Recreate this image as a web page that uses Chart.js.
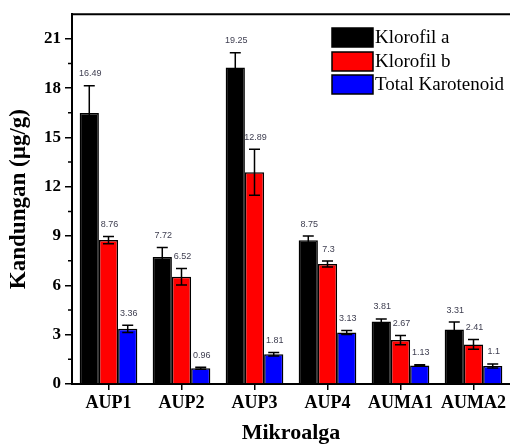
<!DOCTYPE html>
<html>
<head>
<meta charset="utf-8">
<script src="https://cdn.jsdelivr.net/npm/chart.js@4.4.0/dist/chart.umd.min.js"></script>
<style>
  html, body { margin: 0; padding: 0; background: #fff; }
  #wrap { width: 510px; height: 445px; position: relative; }
</style>
</head>
<body>
<div id="wrap"><canvas id="chart"></canvas></div>
<script>
const categories = ["AUP1", "AUP2", "AUP3", "AUP4", "AUMA1", "AUMA2"];
const klorofilA = [16.49, 7.72, 19.25, 8.75, 3.81, 3.31];
const klorofilB = [8.76, 6.52, 12.89, 7.3, 2.67, 2.41];
const karotenoid = [3.36, 0.96, 1.81, 3.13, 1.13, 1.1];
const errA = [1.65, 0.58, 0.9, 0.25, 0.15, 0.46];
const errB = [0.22, 0.5, 1.4, 0.18, 0.28, 0.3];
const errK = [0.22, 0.06, 0.1, 0.12, 0.04, 0.12];
const yMax = 22.5;
const yStep = 3;

const serif = "'Liberation Serif', 'Times New Roman', serif";

// error bars + value labels
const errorBarPlugin = {
    id: "errorBars",
    afterDatasetsDraw(chart) {
        const ctx = chart.ctx;
        const y = chart.scales.y;
        ctx.save();
        chart.data.datasets.forEach((ds, i) => {
            const meta = chart.getDatasetMeta(i);
            meta.data.forEach((bar, j) => {
                const v = ds.data[j];
                const e = ds.errors[j];
                const top = y.getPixelForValue(v + e);
                const bot = y.getPixelForValue(v - e);
                ctx.strokeStyle = "#000";
                ctx.lineWidth = 1.5;
                ctx.beginPath();
                ctx.moveTo(bar.x, top);
                ctx.lineTo(bar.x, bot);
                ctx.moveTo(bar.x - 5.5, top);
                ctx.lineTo(bar.x + 5.5, top);
                ctx.moveTo(bar.x - 5.5, bot);
                ctx.lineTo(bar.x + 5.5, bot);
                ctx.stroke();

                ctx.fillStyle = "#404052";
                ctx.font = "9px 'Liberation Sans', Arial, sans-serif";
                ctx.textAlign = "center";
                ctx.textBaseline = "middle";
                ctx.fillText(String(v), bar.x + 1, Math.min(top, y.getPixelForValue(v)) - 12);
            });
        });
        ctx.restore();
    },
};

// top frame, minor ticks and legend
const framePlugin = {
    id: "frame",
    afterDraw(chart) {
        const ctx = chart.ctx;
        const area = chart.chartArea;
        const y = chart.scales.y;
        ctx.save();
        ctx.strokeStyle = "#000";
        ctx.lineWidth = 2;
        ctx.beginPath();
        ctx.moveTo(area.left, area.top);
        ctx.lineTo(area.right, area.top);
        ctx.stroke();

        ctx.lineWidth = 1.5;
        ctx.beginPath();
        for (let v = yStep / 2; v < yMax; v += yStep) {
            const py = y.getPixelForValue(v);
            ctx.moveTo(area.left, py);
            ctx.lineTo(area.left - 4, py);
        }
        ctx.stroke();

        const lx = 332, ly = [28, 52, 75];
        chart.data.datasets.forEach((ds, i) => {
            ctx.fillStyle = ds.backgroundColor;
            ctx.fillRect(lx, ly[i], 41, 19);
            ctx.lineWidth = 1.5;
            ctx.strokeRect(lx, ly[i], 41, 19);
            ctx.fillStyle = "#000";
            ctx.font = "19px " + serif;
            ctx.textAlign = "left";
            ctx.textBaseline = "middle";
            ctx.fillText(ds.label, lx + 43, ly[i] + 10);
        });
        ctx.restore();
    },
};

const ctx = document.getElementById("chart").getContext("2d");
new Chart(ctx, {
    type: "bar",
    data: {
        labels: categories,
        datasets: [
            { label: "Klorofil a", data: klorofilA, errors: errA, backgroundColor: "#000000" },
            { label: "Klorofil b", data: klorofilB, errors: errB, backgroundColor: "#ff0000" },
            { label: "Total Karotenoid", data: karotenoid, errors: errK, backgroundColor: "#0000ff" },
        ].map((d) => ({ ...d, borderColor: "#000", borderWidth: 1.5, categoryPercentage: 0.79, barPercentage: 1.0 })),
    },
    options: {
        responsive: true,
        maintainAspectRatio: false,
        animation: false,
        devicePixelRatio: 1,
        layout: { padding: { top: 14, right: 0, left: 0, bottom: 0 } },
        plugins: {
            legend: { display: false },
            tooltip: { enabled: false },
        },
        scales: {
            x: {
                afterFit: (s) => { s.height = 61; },
                grid: { display: true, drawOnChartArea: false, offset: false, tickLength: 6, color: "#000", lineWidth: 1.5 },
                border: { display: true, color: "#000", width: 2 },
                ticks: { color: "#000", font: { family: serif, size: 18, weight: "bold" }, padding: 3, maxRotation: 0 },
                title: {
                    display: true,
                    text: "Mikroalga",
                    color: "#000",
                    font: { family: serif, size: 22, weight: "bold", lineHeight: 1 },
                    padding: { top: 0, bottom: 1 },
                },
            },
            y: {
                min: 0,
                max: yMax,
                afterFit: (s) => { s.width = 72; },
                grid: { display: true, drawOnChartArea: false, tickLength: 7, color: "#000", lineWidth: 1.5 },
                border: { display: true, color: "#000", width: 2 },
                ticks: { stepSize: yStep, includeBounds: false, color: "#000", font: { family: serif, size: 17, weight: "bold" }, padding: 4 },
                title: {
                    display: true,
                    text: "Kandungan (µg/g)",
                    color: "#000",
                    font: { family: serif, size: 23, weight: "bold", lineHeight: 1 },
                    padding: { top: 8, bottom: 0 },
                },
            },
        },
    },
    plugins: [errorBarPlugin, framePlugin],
});
</script>
</body>
</html>
